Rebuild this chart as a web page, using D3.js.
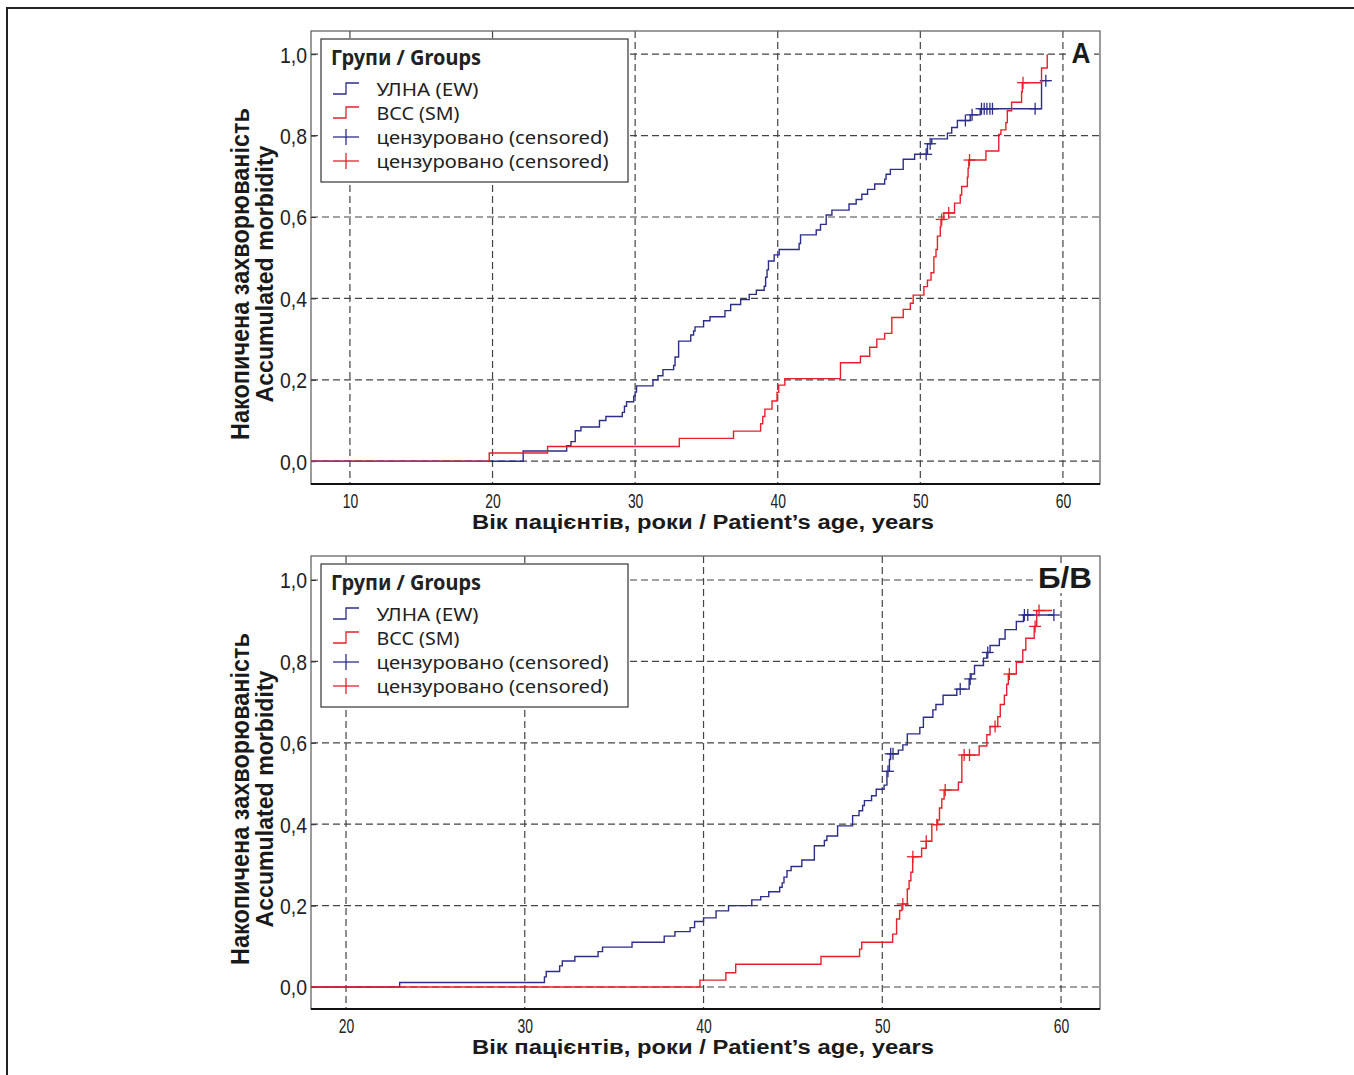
<!DOCTYPE html>
<html>
<head>
<meta charset="utf-8">
<script src="https://cdn.jsdelivr.net/npm/d3@7"></script>
<style>
  body { margin: 0; background: #fff; }
  svg { display: block; }
</style>
</head>
<body>
<script>
// ---- panel A : step curves (age where the step happens, value after it)
var aBlueAge = [22.15, 25.2, 25.5, 25.8, 26.2, 27.5, 27.95, 29.1, 29.25, 29.4, 29.9, 30.0, 30.1,
  31.25, 31.6, 31.95, 32.7, 32.8, 33.05, 33.9, 34.1, 34.2, 34.8, 35.25, 36.3, 36.7, 37.4, 38.0,
  38.5, 39.05, 39.15, 39.25, 39.35, 39.75, 40.1, 41.5, 41.6, 42.7, 43.0, 43.4, 43.8, 45.0, 45.5,
  45.9, 46.3, 46.8, 47.5, 47.6, 47.9, 48.8, 49.6, 50.5, 50.8, 51.9, 52.2, 52.6, 53.5, 54.2, 58.5];
var aBlueVal = [0.025, 0.038, 0.048, 0.075, 0.084, 0.100, 0.110, 0.120, 0.135, 0.146, 0.160, 0.170, 0.185,
  0.200, 0.210, 0.225, 0.235, 0.256, 0.295, 0.310, 0.320, 0.330, 0.345, 0.355, 0.370, 0.385, 0.397, 0.410,
  0.420, 0.430, 0.452, 0.470, 0.492, 0.507, 0.520, 0.535, 0.556, 0.568, 0.582, 0.605, 0.617, 0.632, 0.643,
  0.656, 0.668, 0.681, 0.693, 0.705, 0.717, 0.742, 0.754, 0.780, 0.792, 0.806, 0.820, 0.837, 0.851, 0.866, 0.935];
var aBlueEnd = 59.1;
var aBlueCens = [50.41, 50.69, 53.16, 53.63, 54.29, 54.48, 54.67, 54.88, 55.06, 58.05, 58.8];

var aRedAge = [19.77, 23.86, 33.1, 36.9, 38.8, 38.95, 39.1, 39.6, 39.95, 40.07, 40.5, 44.4, 45.8,
  46.45, 46.95, 47.5, 48.0, 48.8, 49.3, 49.5, 50.25, 50.5, 50.75, 50.95, 51.1, 51.2, 51.4, 51.45,
  51.65, 52.4, 52.8, 52.9, 53.3, 53.35, 53.4, 54.6, 55.5, 55.65, 56.0, 56.1, 56.4, 57.1, 57.15, 58.5, 58.9];
var aRedVal = [0.020, 0.036, 0.056, 0.074, 0.092, 0.110, 0.128, 0.148, 0.169, 0.187, 0.203, 0.242, 0.258,
  0.280, 0.300, 0.314, 0.353, 0.373, 0.388, 0.408, 0.429, 0.445, 0.463, 0.502, 0.520, 0.553, 0.576, 0.594,
  0.610, 0.634, 0.654, 0.675, 0.698, 0.720, 0.740, 0.762, 0.803, 0.814, 0.832, 0.861, 0.882, 0.907, 0.930, 0.966, 1.0];
var aRedEnd = 58.9;
var aRedCens = [51.5, 51.99, 53.45, 57.2];

// ---- panel Б/В
var bBlueAge = [23.0, 31.1, 31.2, 31.95, 32.1, 32.8, 34.1, 34.35, 36.0, 37.8, 38.4, 39.25, 39.5, 40.0,
  40.7, 41.4, 42.7, 43.2, 43.65, 44.26, 44.4, 44.5, 44.67, 44.9, 45.5, 46.2, 46.76, 46.9, 47.5, 48.34,
  48.7, 48.9, 49.0, 49.4, 49.66, 50.1, 50.26, 50.4, 50.45, 50.9, 51.15, 51.4, 52.1, 52.3, 52.83, 53.0,
  53.4, 54.17, 54.86, 54.97, 55.16, 55.66, 55.85, 56.03, 56.55, 56.87, 57.5, 57.9];
var bBlueVal = [0.011, 0.025, 0.038, 0.052, 0.064, 0.075, 0.087, 0.098, 0.110, 0.125, 0.136, 0.146, 0.161, 0.170,
  0.187, 0.200, 0.214, 0.222, 0.234, 0.245, 0.256, 0.270, 0.286, 0.296, 0.312, 0.347, 0.360, 0.371, 0.396, 0.421,
  0.433, 0.446, 0.458, 0.470, 0.486, 0.496, 0.530, 0.559, 0.573, 0.582, 0.595, 0.622, 0.638, 0.663, 0.681, 0.694,
  0.717, 0.732, 0.757, 0.769, 0.790, 0.808, 0.822, 0.839, 0.855, 0.878, 0.898, 0.914];
var bBlueEnd = 59.6;
var bBlueCens = [50.32, 50.47, 50.6, 54.36, 54.92, 55.9, 57.95, 58.14, 59.6];

var bRedAge = [39.8, 41.25, 41.8, 46.57, 48.73, 48.85, 50.58, 50.8, 50.97, 51.1, 51.4, 51.5, 51.6, 51.7,
  52.2, 52.46, 52.77, 53.1, 53.2, 53.33, 53.46, 54.26, 54.45, 55.42, 55.85, 56.03, 56.46, 56.6, 56.83,
  56.96, 57.05, 57.5, 57.86, 58.03, 58.5, 58.64];
var bRedVal = [0.017, 0.035, 0.056, 0.075, 0.093, 0.110, 0.130, 0.167, 0.188, 0.204, 0.241, 0.261, 0.282, 0.320,
  0.341, 0.358, 0.399, 0.410, 0.440, 0.462, 0.484, 0.503, 0.570, 0.592, 0.620, 0.640, 0.664, 0.694, 0.717,
  0.744, 0.769, 0.798, 0.828, 0.857, 0.886, 0.925];
var bRedEnd = 59.5;
var bRedCens = [51.15, 51.71, 52.46, 53.05, 53.52, 54.58, 54.88, 56.31, 57.11, 58.55, 58.77];

// ticks / labels
var aXTicks = [10, 20, 30, 40, 50, 60];
var bXTicks = [20, 30, 40, 50, 60];
var yTicks = [0, 0.2, 0.4, 0.6, 0.8, 1.0];
var legendTitle = "Групи / Groups";
var legendLabels = ["УЛНА (EW)", "ВСС (SM)", "цензуровано (censored)", "цензуровано (censored)"];
var yTitle1 = "Накопичена захворюваність";
var yTitle2 = "Accumulated morbidity";
var xTitle = "Вік пацієнтів, роки / Patient\u2019s age, years";

var BLUE = "#2d2d8c", RED = "#e8202a";
var narrow = "'Liberation Sans Narrow', 'Liberation Sans', Arial, sans-serif";

var svg = d3.select("body").append("svg")
  .attr("width", 1354)
  .attr("height", 1075);

// outer page frame
svg.append("path")
  .attr("d", "M7,1075 V8 H1354")
  .attr("fill", "none")
  .attr("stroke", "#222")
  .attr("stroke-width", 2);

function valueAt(ages, vals, a) {
  var i = d3.bisectRight(ages, a);
  return i === 0 ? 0 : vals[i - 1];
}

function drawPanel(p) {
  var left = 311, right = 1100;
  var x = d3.scaleLinear().domain(p.xDomain).range([left, right]);
  var y = d3.scaleLinear().domain(p.yDomain).range([p.bottom, p.top]);

  var g = svg.append("g");

  // grid
  g.selectAll(".hg").data(yTicks).enter().append("line")
    .attr("x1", left).attr("x2", right)
    .attr("y1", d => y(d)).attr("y2", d => y(d))
    .attr("stroke", "#444").attr("stroke-width", 1.2)
    .attr("stroke-dasharray", "7,4");
  g.selectAll(".vg").data(p.xTicks).enter().append("line")
    .attr("x1", d => x(d)).attr("x2", d => x(d))
    .attr("y1", p.top).attr("y2", p.bottom)
    .attr("stroke", "#444").attr("stroke-width", 1.2)
    .attr("stroke-dasharray", "7,4");

  // frame
  g.append("rect")
    .attr("x", left).attr("y", p.top)
    .attr("width", right - left).attr("height", p.bottom - p.top)
    .attr("fill", "none").attr("stroke", "#666").attr("stroke-width", 1.3);
  g.append("line")
    .attr("x1", left).attr("x2", right)
    .attr("y1", p.bottom).attr("y2", p.bottom)
    .attr("stroke", "#111").attr("stroke-width", 2);

  // y axis ticks + labels
  var yAxis = d3.axisLeft(y).tickValues(yTicks).tickSize(-5).tickPadding(7)
    .tickFormat(d => d3.format(".1f")(d).replace(".", ","));
  var ya = g.append("g").attr("transform", "translate(" + left + ",0)").call(yAxis);
  ya.select(".domain").remove();
  ya.selectAll("line").attr("stroke", "#333");
  ya.selectAll("text")
    .attr("font-family", narrow).attr("font-size", 22).attr("fill", "#222")
    .attr("x", -4).attr("dy", "0.36em")
    .attr("textLength", 27).attr("lengthAdjust", "spacingAndGlyphs");

  // x axis labels
  var xAxis = d3.axisBottom(x).tickValues(p.xTicks).tickSize(0).tickPadding(10);
  var xa = g.append("g").attr("transform", "translate(0," + p.bottom + ")").call(xAxis);
  xa.select(".domain").remove();
  xa.selectAll("text")
    .attr("font-family", narrow).attr("font-size", 19.5).attr("fill", "#222")
    .attr("textLength", 15.5).attr("lengthAdjust", "spacingAndGlyphs");

  // step curves
  var line = d3.line().x(d => x(d[0])).y(d => y(d[1])).curve(d3.curveStepAfter);
  p.series.forEach(function(s) {
    var pts = [[p.xDomain[0], 0]];
    s.ages.forEach(function(a, i) { pts.push([a, s.vals[i]]); });
    pts.push([s.end, s.vals[s.vals.length - 1]]);
    g.append("path").datum(pts)
      .attr("d", line)
      .attr("fill", "none")
      .attr("stroke", s.color)
      .attr("stroke-width", 1.4);

    var cg = g.selectAll(null).data(s.cens).enter().append("g")
      .attr("transform", d => "translate(" + x(d) + "," + y(valueAt(s.ages, s.vals, d)) + ")");
    cg.append("line").attr("x1", -6).attr("x2", 6).attr("stroke", s.color).attr("stroke-width", 1.3);
    cg.append("line").attr("y1", -6).attr("y2", 6).attr("stroke", s.color).attr("stroke-width", 1.3);
  });

  // legend
  var lg = g.append("g").attr("transform", "translate(321," + (p.top + 8) + ")");
  lg.append("rect").attr("width", 307).attr("height", 143)
    .attr("fill", "#fff").attr("stroke", "#333").attr("stroke-width", 1.2);
  lg.append("text").attr("x", 10).attr("y", 26)
    .attr("font-family", "'Noto Sans', sans-serif").attr("font-weight", "bold")
    .attr("font-size", 21).attr("fill", "#222")
    .attr("textLength", 150).attr("lengthAdjust", "spacingAndGlyphs")
    .text(legendTitle);
  var itemY = [57, 81, 105, 129];
  var itemW = [102, 83, 232, 232];
  var itemCol = [BLUE, RED, BLUE, RED];
  legendLabels.forEach(function(t, i) {
    var cy = itemY[i] - 7;
    if (i < 2) {
      lg.append("path")
        .attr("d", "M12," + (cy + 5) + " H25 V" + (cy - 6) + " H38")
        .attr("fill", "none").attr("stroke", itemCol[i]).attr("stroke-width", 1.3);
    } else {
      lg.append("line").attr("x1", 12).attr("x2", 38).attr("y1", cy).attr("y2", cy)
        .attr("stroke", itemCol[i]).attr("stroke-width", 1.3);
      lg.append("line").attr("x1", 25).attr("x2", 25).attr("y1", cy - 8).attr("y2", cy + 8)
        .attr("stroke", itemCol[i]).attr("stroke-width", 1.3);
    }
    lg.append("text").attr("x", 55.5).attr("y", itemY[i])
      .attr("font-family", "'Noto Sans', sans-serif").attr("font-size", 18.5).attr("fill", "#222")
      .attr("textLength", itemW[i]).attr("lengthAdjust", "spacingAndGlyphs")
      .text(t);
  });

  // panel letter on white patch
  g.append("rect").attr("x", p.labelBox[0]).attr("y", p.labelBox[1])
    .attr("width", p.labelBox[2]).attr("height", p.labelBox[3]).attr("fill", "#fff");
  g.append("text").attr("x", p.labelX).attr("y", p.top + 32)
    .attr("text-anchor", "middle")
    .attr("font-family", "'Liberation Sans', Arial, sans-serif").attr("font-weight", "bold")
    .attr("font-size", 29).attr("fill", "#1a1a1a")
    .attr("textLength", p.labelW).attr("lengthAdjust", "spacingAndGlyphs")
    .text(p.label);

  // axis titles
  var cy = p.top + 243;
  g.append("text")
    .attr("transform", "translate(249," + cy + ") rotate(-90)")
    .attr("text-anchor", "middle")
    .attr("font-family", narrow).attr("font-weight", "bold").attr("font-size", 25).attr("fill", "#1a1a1a")
    .attr("textLength", 332).attr("lengthAdjust", "spacingAndGlyphs")
    .text(yTitle1);
  g.append("text")
    .attr("transform", "translate(273," + cy + ") rotate(-90)")
    .attr("text-anchor", "middle")
    .attr("font-family", narrow).attr("font-weight", "bold").attr("font-size", 23).attr("fill", "#1a1a1a")
    .attr("textLength", 257).attr("lengthAdjust", "spacingAndGlyphs")
    .text(yTitle2);
  g.append("text")
    .attr("x", 703).attr("y", p.bottom + 45)
    .attr("text-anchor", "middle")
    .attr("font-family", narrow).attr("font-weight", "bold").attr("font-size", 20).attr("fill", "#1a1a1a")
    .attr("textLength", 462).attr("lengthAdjust", "spacingAndGlyphs")
    .text(xTitle);
}

drawPanel({
  top: 31, bottom: 484,
  xDomain: [7.27, 62.6], yDomain: [-0.056, 1.057],
  xTicks: aXTicks,
  series: [
    { ages: aBlueAge, vals: aBlueVal, end: aBlueEnd, cens: aBlueCens, color: BLUE },
    { ages: aRedAge, vals: aRedVal, end: aRedEnd, cens: aRedCens, color: RED }
  ],
  label: "А", labelX: 1081, labelW: 19, labelBox: [1067, 40, 27, 26]
});

drawPanel({
  top: 556, bottom: 1009,
  xDomain: [18.04, 62.18], yDomain: [-0.054, 1.059],
  xTicks: bXTicks,
  series: [
    { ages: bBlueAge, vals: bBlueVal, end: bBlueEnd, cens: bBlueCens, color: BLUE },
    { ages: bRedAge, vals: bRedVal, end: bRedEnd, cens: bRedCens, color: RED }
  ],
  label: "Б/В", labelX: 1065, labelW: 54, labelBox: [1033, 565, 66, 28]
});
</script>
</body>
</html>
